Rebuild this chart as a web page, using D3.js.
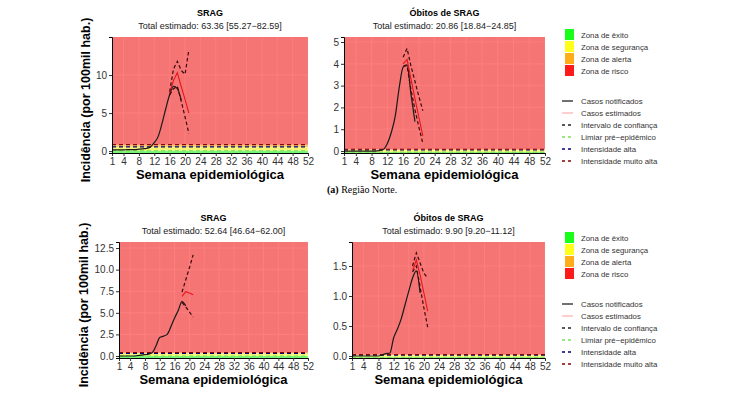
<!DOCTYPE html>
<html>
<head>
<meta charset="utf-8">
<script src="https://cdn.jsdelivr.net/npm/d3@7"></script>
<style>
  body { margin: 0; background: #fff; }
  text { font-family: "Liberation Sans", Arial, sans-serif; }
</style>
</head>
<body>
<div id="chart"></div>
<script>
// week ticks on the x axis
var weekTicks = [1, 4, 8, 12, 16, 20, 24, 28, 32, 36, 40, 44, 48, 52];

// SRAG - Norte
var sragNorteNotif = [0.15, 0.15, 0.15, 0.15, 0.2, 0.2, 0.2, 0.25, 0.3, 0.35, 0.55, 1.1, 1.9, 3.6, 5.6, 7.4, 8.5, 8.2, 6.7];
var sragNorteEst   = [7.6, 9.3, 10.3, 8.5, 6.8, 5.0];    // weeks 16-21
var sragNorteUpper = [7.8, 10.8, 11.8, 10.6, 10.1, 13.3];
var sragNorteLower = [7.4, 8.2, 8.5, 6.6, 4.5, 2.3];
var sragNorteLimits = [0.05, 0.55, 0.85];                 // limiar, alta, muito alta

// Obitos de SRAG - Norte
var obitosNorteNotif = [0, 0, 0, 0, 0, 0, 0, 0, 0, 0.02, 0.08, 0.35, 0.85, 1.6, 2.9, 3.85, 3.95, 2.6, 1.35];
var obitosNorteEst   = [4.0, 4.2, 3.3, 2.4, 1.55, 0.7];  // weeks 16-21
var obitosNorteUpper = [4.3, 4.7, 3.9, 3.2, 2.5, 1.85];
var obitosNorteLower = [3.9, 3.9, 2.8, 1.9, 1.1, 0.35];
var obitosNorteLimits = [-0.05, 0.05, 0.08];

// SRAG - second region
var sragSulNotif = [0, 0, 0, 0, 0, 0.05, 0.1, 0.15, 0.2, 0.4, 1.2, 2.15, 2.3, 2.5, 3.4, 4.4, 5.3, 6.3, 5.8];
var sragSulEst   = [6.9, 7.45, 7.3, 7.1];                // weeks 18-21
var sragSulUpper = [7.4, 8.8, 10.2, 11.7];
var sragSulLower = [6.2, 5.7, 5.1, 4.5];
var sragSulLimits = [0.0, 0.3, 0.4];

// Obitos de SRAG - second region
var obitosSulNotif = [0, 0, 0, 0, 0, 0, 0, 0, 0.02, 0.04, 0.05, 0.3, 0.45, 0.62, 0.85, 1.08, 1.3, 1.42, 1.05];
var obitosSulEst   = [1.42, 1.6, 1.35, 1.05, 0.75];      // weeks 17-21
var obitosSulUpper = [1.5, 1.72, 1.55, 1.38, 1.3];
var obitosSulLower = [1.4, 1.5, 1.15, 0.8, 0.48];
var obitosSulLimits = [-0.02, 0.015, 0.025];

var zoneColors = ["#00ff00", "#ffff00", "#ffa500", "#ff0000"];
var zoneNames = ["Zona de êxito", "Zona de segurança", "Zona de alerta", "Zona de risco"];
var lineNames = ["Casos notificados", "Casos estimados", "Intervalo de confiança", "Limiar pré\u2212epidêmico", "Intensidade alta", "Intensidade muito alta"];
var lineColors = ["#222", "#ff4d4d", "#222", "#7ddc5a", "#00007a", "#8b0000"];
var lineDash = [null, null, "3,3", "3,3", "3,3", "3,3"];

var svg = d3.select("#chart").append("svg")
    .attr("width", 735)
    .attr("height", 393);

function panel(p) {
    var x = d3.scaleLinear().domain([1, 52]).range([p.left, p.right]);
    var y = d3.scaleLinear().domain(p.yDomain).range([p.bottom, p.top]);
    var g = svg.append("g");
    var clipId = "clip" + p.id;
    g.append("clipPath").attr("id", clipId)
        .append("rect")
        .attr("x", p.left).attr("y", p.top)
        .attr("width", p.right - p.left).attr("height", p.bottom - p.top);

    // panel background and grid
    g.append("rect")
        .attr("x", p.left).attr("y", p.top)
        .attr("width", p.right - p.left).attr("height", p.bottom - p.top)
        .attr("fill", "#ebebeb");
    g.selectAll(".vg").data(weekTicks).enter().append("line")
        .attr("x1", d => x(d)).attr("x2", d => x(d))
        .attr("y1", p.top).attr("y2", p.bottom)
        .attr("stroke", "#fff").attr("stroke-width", 0.8);
    g.selectAll(".hg").data(p.yTicks).enter().append("line")
        .attr("x1", p.left).attr("x2", p.right)
        .attr("y1", d => y(d)).attr("y2", d => y(d))
        .attr("stroke", "#fff").attr("stroke-width", 0.8);

    // zones
    var bounds = [p.yDomain[0]].concat(p.limits.map(v => Math.max(v, p.yDomain[0]))).concat([p.yDomain[1]]);
    g.selectAll(".zone").data(zoneColors).enter().append("rect")
        .attr("x", p.left)
        .attr("width", p.right - p.left)
        .attr("y", (d, i) => y(bounds[i + 1]))
        .attr("height", (d, i) => y(bounds[i]) - y(bounds[i + 1]))
        .attr("fill", d => d)
        .attr("opacity", 0.5);

    var inner = g.append("g").attr("clip-path", "url(#" + clipId + ")");

    // threshold lines
    p.limits.forEach(function(v, i) {
        inner.append("line")
            .attr("x1", p.left).attr("x2", p.right)
            .attr("y1", y(v)).attr("y2", y(v))
            .attr("stroke", lineColors[3 + i])
            .attr("stroke-width", 1.1)
            .attr("stroke-dasharray", "4,3");
    });

    var line = d3.line().x(d => x(d[0])).y(d => y(d[1]));
    var smooth = d3.line().x(d => x(d[0])).y(d => y(d[1])).curve(d3.curveMonotoneX);
    function pts(arr, start) { return arr.map((v, i) => [start + i, v]); }

    inner.append("path").attr("d", smooth(pts(p.notif, 1)))
        .attr("fill", "none").attr("stroke", "#1a1a1a").attr("stroke-width", 1.2);
    inner.append("path").attr("d", line(pts(p.est, p.estStart)))
        .attr("fill", "none").attr("stroke", "#e8141a").attr("stroke-width", 1.1);
    [p.upper, p.lower].forEach(function(arr) {
        inner.append("path").attr("d", line(pts(arr, p.estStart)))
            .attr("fill", "none").attr("stroke", "#3a0a0a").attr("stroke-width", 1.2)
            .attr("stroke-dasharray", "3.5,2.5");
    });

    // axes
    var xa = g.append("g").attr("transform", "translate(0," + p.bottom + ")")
        .call(d3.axisBottom(x).tickValues(weekTicks).tickSize(3).tickPadding(1.5));
    var ya = g.append("g").attr("transform", "translate(" + p.left + ",0)")
        .call(d3.axisLeft(y).tickValues(p.yTicks).tickFormat(d3.format(p.fmt)).tickSize(3).tickPadding(2));
    [xa, ya].forEach(function(a) {
        a.select(".domain").attr("stroke", "#000").attr("stroke-width", 1);
        a.selectAll(".tick line").attr("stroke", "#333");
        a.selectAll(".tick text").attr("fill", "#333").attr("font-size", 10)
            .style("font-family", "'Liberation Sans', Arial, sans-serif");
    });

    var cx = (p.left + p.right) / 2;
    g.append("text").attr("x", cx).attr("y", p.top - 21)
        .attr("text-anchor", "middle").attr("font-size", 9).attr("font-weight", "bold")
        .text(p.title);
    g.append("text").attr("x", cx).attr("y", p.top - 8)
        .attr("text-anchor", "middle").attr("font-size", 9).attr("fill", "#222")
        .text(p.subtitle);
    g.append("text").attr("x", cx).attr("y", p.bottom + 26)
        .attr("text-anchor", "middle").attr("font-size", 13).attr("font-weight", "bold")
        .text("Semana epidemiológica");
}

function legend(top) {
    var lg = svg.append("g");
    lg.selectAll(".sq").data(zoneColors).enter().append("rect")
        .attr("x", 565).attr("y", (d, i) => top + i * 12 - 6)
        .attr("width", 9).attr("height", 11)
        .attr("fill", d => d).attr("opacity", 0.9);
    lg.selectAll(".zt").data(zoneNames).enter().append("text")
        .attr("x", 581).attr("y", (d, i) => top + i * 12 + 3)
        .attr("font-size", 7.8).attr("fill", "#333").text(d => d);
    lg.selectAll(".ll").data(lineNames).enter().append("line")
        .attr("x1", 562).attr("x2", 573)
        .attr("y1", (d, i) => top + 66 + i * 12).attr("y2", (d, i) => top + 66 + i * 12)
        .attr("stroke", (d, i) => lineColors[i])
        .attr("stroke-width", (d, i) => i == 1 ? 0.9 : 1.3)
        .attr("stroke-opacity", (d, i) => i == 1 ? 0.6 : 1)
        .attr("stroke-dasharray", (d, i) => lineDash[i]);
    lg.selectAll(".lt").data(lineNames).enter().append("text")
        .attr("x", 581).attr("y", (d, i) => top + 69 + i * 12)
        .attr("font-size", 7.8).attr("fill", "#333").text(d => d);
}

function yTitle(cx, cy) {
    svg.append("text")
        .attr("transform", "translate(" + cx + "," + cy + ") rotate(-90)")
        .attr("text-anchor", "middle").attr("font-size", 12.5).attr("font-weight", "bold")
        .text("Incidência (por 100mil hab.)");
}

panel({id: 1, left: 112, right: 308, top: 37, bottom: 153, yDomain: [-0.25, 15], yTicks: [0, 5, 10], fmt: "d",
    notif: sragNorteNotif, est: sragNorteEst, upper: sragNorteUpper, lower: sragNorteLower, estStart: 16,
    limits: sragNorteLimits, title: "SRAG", subtitle: "Total estimado: 63.36 [55.27\u221282.59]"});
panel({id: 2, left: 344, right: 545, top: 37, bottom: 153, yDomain: [-0.09, 5.23], yTicks: [0, 1, 2, 3, 4, 5], fmt: "d",
    notif: obitosNorteNotif, est: obitosNorteEst, upper: obitosNorteUpper, lower: obitosNorteLower, estStart: 16,
    limits: obitosNorteLimits, title: "Óbitos de SRAG", subtitle: "Total estimado: 20.86 [18.84\u221224.85]"});
panel({id: 3, left: 119, right: 308, top: 242, bottom: 358, yDomain: [-0.23, 13.2], yTicks: [0, 2.5, 5, 7.5, 10, 12.5], fmt: ".1f",
    notif: sragSulNotif, est: sragSulEst, upper: sragSulUpper, lower: sragSulLower, estStart: 18,
    limits: sragSulLimits, title: "SRAG", subtitle: "Total estimado: 52.64 [46.64\u221262.00]"});
panel({id: 4, left: 352, right: 545, top: 242, bottom: 358, yDomain: [-0.033, 1.9], yTicks: [0, 0.5, 1, 1.5], fmt: ".1f",
    notif: obitosSulNotif, est: obitosSulEst, upper: obitosSulUpper, lower: obitosSulLower, estStart: 17,
    limits: obitosSulLimits, title: "Óbitos de SRAG", subtitle: "Total estimado: 9.90 [9.20\u221211.12]"});

legend(35);
legend(238);
yTitle(90, 100);
yTitle(88, 305);

// caption
var cap = svg.append("text").attr("x", 327).attr("y", 193)
    .attr("font-size", 10).style("font-family", "'Liberation Serif', 'Times New Roman', serif");
cap.append("tspan").attr("font-weight", "bold").text("(a)");
cap.append("tspan").text(" Região Norte.");
</script>
</body>
</html>
